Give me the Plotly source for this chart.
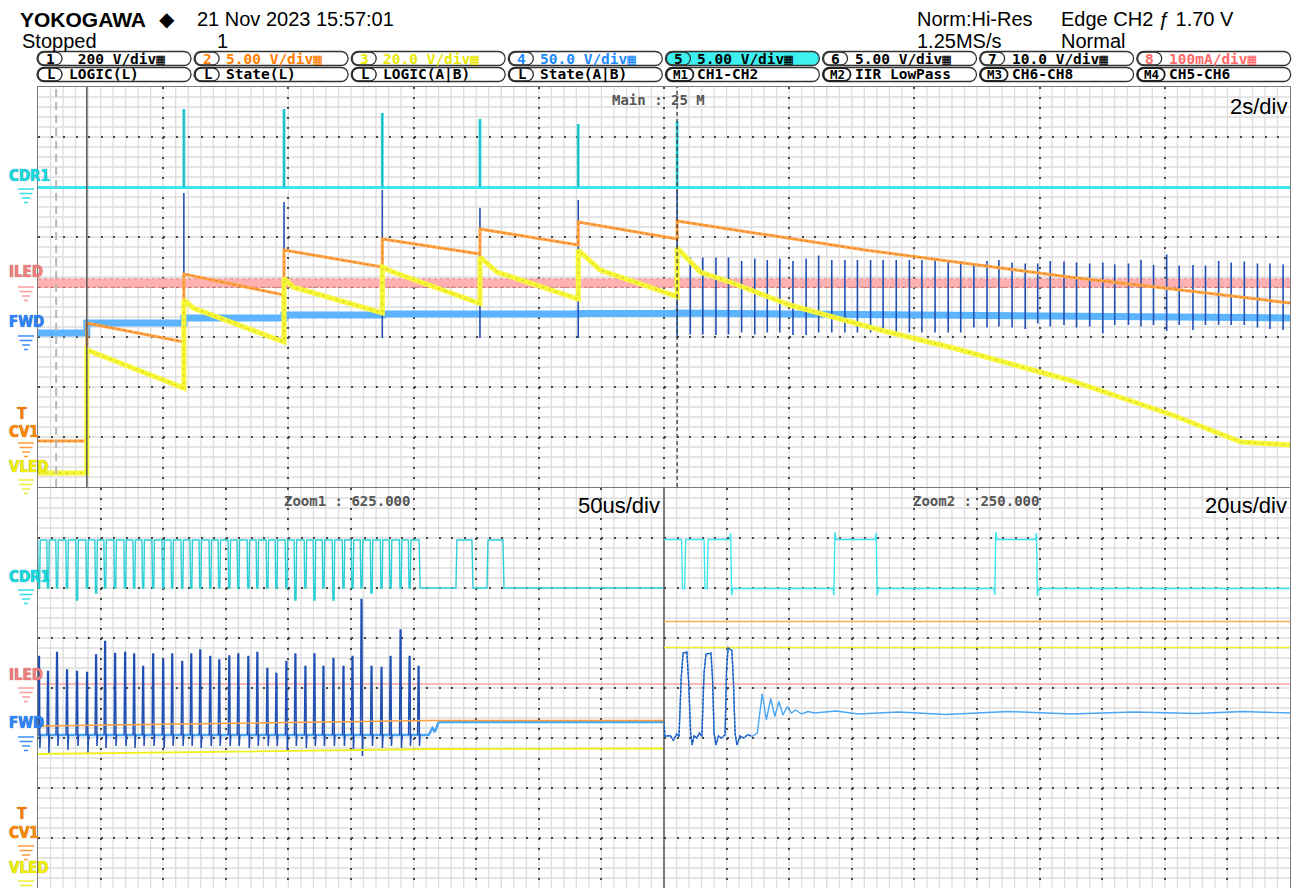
import plotly.graph_objects as go

W, H = 1297, 888

# ===================== DATA =====================
# Main window (2 s/div): time in s from the left edge of the screen,
# level in divisions from the screen centre.
cursor_t = 0.29
record_start_t = 0.78
trigger_t = 10.21
burst_t = [2.33, 3.93, 5.50, 7.06, 8.63, 10.21]

cdr1_main_level = 1.99
cdr1_main_spike_top = [3.56, 3.56, 3.48, 3.36, 3.26, 3.32]

iled_main_t = [0.0, 20.0]
iled_main_v = [0.08, 0.08]

fwd_main_t = [0.0, 0.78, 0.78, 2.33, 2.33, 3.93, 3.93, 5.50, 5.50, 7.06, 7.06, 8.63, 8.63, 10.21, 10.21, 20.0]
fwd_main_v = [-0.92, -0.92, -0.72, -0.72, -0.62, -0.62, -0.56, -0.56, -0.54, -0.54, -0.54, -0.54, -0.53, -0.53, -0.52, -0.62]
fwd_burst_top = [1.88, 1.70, 1.94, 1.58, 1.74, 1.94]
fwd_burst_bot = [-0.86, -1.06, -1.02, -1.02, -1.02, -1.02]

fwd_pulse_t = [10.42, 10.62, 10.83, 11.03, 11.24, 11.45, 11.65, 11.85, 12.06, 12.27,
               12.47, 12.68, 12.89, 13.09, 13.30, 13.50, 13.71, 13.92, 14.12, 14.33,
               14.54, 14.74, 14.95, 15.16, 15.35, 15.56, 15.77, 15.97, 16.17, 16.39,
               16.59, 16.80, 17.01, 17.20, 17.42, 17.62, 17.82, 18.03, 18.23, 18.45,
               18.65, 18.86, 19.06, 19.27, 19.48, 19.68, 19.89]
fwd_pulse_top = [0.59, 0.59, 0.59, 0.59, 0.52, 0.57, 0.54, 0.57, 0.52, 0.57,
                 0.63, 0.54, 0.54, 0.54, 0.54, 0.54, 0.54, 0.54, 0.54, 0.54,
                 0.54, 0.52, 0.47, 0.52, 0.54, 0.49, 0.47, 0.47, 0.52, 0.51,
                 0.49, 0.47, 0.49, 0.45, 0.47, 0.54, 0.44, 0.65, 0.43, 0.44,
                 0.43, 0.52, 0.49, 0.51, 0.47, 0.47, 0.45]
fwd_pulse_bot = [-0.95, -0.95, -0.96, -0.95, -0.91, -0.95, -0.91, -0.91, -0.96, -0.96,
                 -0.91, -0.91, -0.91, -0.91, -0.91, -0.91, -0.91, -0.91, -0.91, -0.91,
                 -0.91, -0.91, -0.81, -0.81, -0.79, -0.81, -0.84, -0.73, -0.79, -0.76,
                 -0.81, -0.79, -0.93, -0.76, -0.76, -0.79, -0.76, -0.88, -0.76, -0.86,
                 -0.76, -0.76, -0.76, -0.76, -0.81, -0.84, -0.86]

cv1_main_t = [0.0, 0.78, 0.78, 2.33, 2.33, 3.93, 3.93, 5.50, 5.50, 7.06, 7.06, 8.63, 8.63,
              10.21, 10.21, 13.21, 16.47, 18.12, 20.0]
cv1_main_v = [-3.08, -3.08, -0.72, -1.10, 0.26, -0.16, 0.74, 0.40, 0.96, 0.66, 1.16, 0.84, 1.30,
              0.96, 1.32, 0.74, 0.20, -0.04, -0.32]

vled_main_t = [0.0, 0.78, 0.78, 2.33, 2.33, 2.48, 3.93, 3.93, 4.07, 5.50,
               5.50, 5.67, 7.06, 7.06, 7.33, 8.63, 8.63, 8.98, 10.21, 10.21,
               10.58, 11.05, 12.01, 12.70, 13.45, 14.62, 16.47, 18.12, 19.22, 20.0]
vled_main_v = [-3.72, -3.72, -1.26, -2.02, -0.26, -0.42, -1.10, 0.18, 0.00, -0.52,
               0.40, 0.30, -0.33, 0.60, 0.30, -0.24, 0.74, 0.34, -0.19, 0.78,
               0.30, 0.10, -0.36, -0.60, -0.86, -1.22, -1.86, -2.56, -3.10, -3.16]

# Zoom1 (50 us/div): time in us from the left edge of the zoom window
z1_pulse_t = [0.8, 8.0, 15.2, 23.2, 31.2, 39.2, 46.4, 53.6, 61.6, 69.6,
              76.8, 84.0, 92.0, 100.0, 107.2, 115.2, 122.4, 129.6, 137.6, 144.8,
              152.8, 160.0, 168.0, 175.2, 183.2, 190.4, 198.4, 205.6, 213.6, 220.8,
              228.0, 236.0, 244.0, 251.2, 258.4, 266.4, 274.4, 281.6, 289.6, 296.8, 304.0]
z1_fwd_top = [0.63, 0.33, 0.71, 0.36, 0.33, 0.31, 0.66, 0.93, 0.69, 0.71,
              0.68, 0.43, 0.68, 0.56, 0.68, 0.53, 0.68, 0.76, 0.63, 0.56,
              0.64, 0.68, 0.63, 0.71, 0.39, 0.29, 0.53, 0.68, 0.43, 0.68,
              0.43, 0.59, 0.43, 0.63, 1.77, 0.43, 0.41, 0.63, 1.16, 0.63, 0.43]
z1_fwd_bot = [-1.20, -1.30, -1.16, -1.24, -1.16, -1.30, -1.16, -1.20, -1.16, -1.16,
              -1.20, -1.16, -1.16, -1.20, -1.16, -1.16, -1.16, -1.20, -1.16, -1.16,
              -1.16, -1.16, -1.20, -1.16, -1.16, -1.16, -1.26, -1.16, -1.20, -1.16,
              -1.16, -1.16, -1.16, -1.26, -1.36, -1.16, -1.20, -1.16, -1.20, -1.16, -1.16]
z1_fwd_base_t = [0.0, 312.0, 315.0, 317.0, 320.0, 500.0]
z1_fwd_base_v = [-0.94, -0.94, -0.80, -0.88, -0.68, -0.68]
z1_cdr1_hi = 2.96
z1_cdr1_lo = 2.00
z1_cdr1_dip_v = [2.0, 2.0, 2.0, 2.0, 1.76, 2.0, 1.9, 2.0, 2.0, 2.0,
                 2.0, 2.0, 2.0, 2.0, 2.0, 2.0, 2.0, 2.0, 2.0, 2.0,
                 2.0, 2.0, 2.0, 2.0, 2.0, 2.0, 2.0, 1.76, 2.0, 1.76,
                 2.0, 1.76, 2.0, 2.0, 2.0, 1.9, 2.0, 2.0, 2.0, 2.0]
z1_cdr1_edge_t = [304.8, 334.2, 347.0, 359.0, 371.8]   # fall, rise, fall, rise, fall
z1_iled_t = [0.0, 500.0]
z1_iled_v = [0.08, 0.08]
z1_cv1_t = [0.0, 313.6, 500.0]
z1_cv1_v = [-0.76, -0.65, -0.65]
z1_vled_t = [0.0, 320.0, 500.0]
z1_vled_v = [-1.32, -1.22, -1.21]

# Zoom2 (20 us/div): time in us from the left edge of the zoom window
z2_cdr1_t = [0, 5.6, 5.9, 6.6, 6.9, 12.8, 13.1, 13.8, 14.1, 21.0,
             21.3, 21.6, 22.0, 54.0, 54.3, 54.6, 55.0, 67.5, 67.8, 68.1,
             68.5, 105.4, 105.7, 106.0, 106.4, 118.7, 119.0, 119.3, 119.7, 200]
z2_cdr1_v = [2.97, 2.97, 1.99, 1.99, 2.97, 2.97, 1.99, 1.99, 2.97, 2.97,
             3.10, 1.85, 1.99, 1.99, 1.85, 3.12, 2.97, 2.97, 3.10, 1.85,
             1.99, 1.99, 1.86, 3.12, 2.97, 2.97, 3.10, 1.84, 1.99, 1.99]
z2_fwd_t = [0, 0.3, 2.0, 3.0, 4.0, 4.8, 5.5, 6.1, 7.3, 7.9,
            8.5, 9.0, 9.6, 10.5, 11.3, 12.1, 12.8, 13.4, 15.0, 15.5,
            16.0, 16.6, 17.4, 18.3, 19.5, 20.0, 20.5, 21.7, 22.2, 22.7,
            23.3, 24.3, 25.5, 26.8, 28.1, 29.8, 31.4, 32.7, 34.1, 35.4,
            36.7, 38.0, 39.4, 40.7, 42.0, 44.0, 46.0, 48.0, 55, 62,
            75, 90, 110, 130, 150, 170, 185, 200]
z2_fwd_v = [-0.68, -0.97, -0.95, -1.05, -0.92, -0.97, 0.2, 0.7, 0.72, 0.1,
            -0.9, -1.14, -0.95, -1.0, -0.9, -0.97, 0.3, 0.68, 0.70, 0.2,
            -0.9, -1.14, -0.96, -1.0, -0.94, 0.4, 0.8, 0.75, 0.1, -0.9,
            -1.14, -0.96, -1.0, -0.93, -0.97, -0.9, -0.11, -0.64, -0.21, -0.57,
            -0.27, -0.54, -0.37, -0.5, -0.44, -0.52, -0.47, -0.5, -0.46, -0.52,
            -0.48, -0.53, -0.47, -0.52, -0.48, -0.51, -0.47, -0.5]
z2_fwd_pulse_n = 35
z2_iled_t = [0.0, 200.0]
z2_iled_v = [0.08, 0.08]
z2_cv1_t = [0.0, 200.0]
z2_cv1_v = [1.33, 1.33]
z2_vled_t = [0.0, 200.0]
z2_vled_v = [0.81, 0.81]

# Header text
ch_scale = [" 200 V/div", "5.00 V/div", "20.0 V/div", "50.0 V/div",
            "5.00 V/div", "5.00 V/div", "10.0 V/div", "100mA/div"]
ch_num = ["1", "2", "3", "4", "5", "6", "7", "8"]
ch_func_badge = ["L", "L", "L", "L", "M1", "M2", "M3", "M4"]
ch_func = ["LOGIC(L)", "State(L)", "LOGIC(A|B)", "State(A|B)",
           "CH1-CH2", "IIR LowPass", "CH6-CH8", "CH5-CH6"]

# ===================== STYLE =====================
C_CYAN, C_TEAL = "#3ee6ee", "#1fb3b8"
C_PINK, C_PINK_D = "#ffb1b1", "#c86464"
C_LBLUE, C_DBLUE = "#5cb4ff", "#2050b4"
C_ORANGE, C_ORANGE_D = "#ffa444", "#d06a10"
C_YELLOW, C_YELLOW_D = "#f7f73a", "#b9ad00"
SANS = "Liberation Sans, Arial, sans-serif"
MONO = "DejaVu Sans Mono, Liberation Mono, monospace"
COND = "DejaVu Sans Condensed, Liberation Sans Narrow, Liberation Sans, sans-serif"


def X(px):
    return px / W


def Y(py):
    return 1 - py / H


fig = go.Figure()


def line(x, y, color, width, ax, dash=None, opacity=1.0):
    xa = {1: "x", 2: "x2", 3: "x3"}[ax]
    fig.add_trace(go.Scatter(
        x=x, y=y, mode="lines", opacity=opacity, hoverinfo="skip", showlegend=False,
        line=dict(color=color, width=width, dash=dash, simplify=False),
        xaxis=xa, yaxis=xa.replace("x", "y")))


def spikes(ts, bots, tops):
    xs, ys = [], []
    for t, b, tp in zip(ts, bots, tops):
        xs += [t, t, None]
        ys += [b, tp, None]
    return xs, ys


# ---------------- main window traces ----------------
line(iled_main_t, iled_main_v, C_PINK, 9, 1)
line(iled_main_t, [v + 0.085 for v in iled_main_v], C_PINK_D, 1, 1, dash="3px,3px", opacity=0.6)
line(iled_main_t, [v - 0.085 for v in iled_main_v], C_PINK_D, 1, 1, dash="4px,2px", opacity=0.8)

cx, cy = [0.0], [cdr1_main_level]
for t, tp in zip(burst_t, cdr1_main_spike_top):
    cx += [t, t, t]
    cy += [cdr1_main_level, tp, cdr1_main_level]
cx.append(20.0)
cy.append(cdr1_main_level)
line(cx, cy, C_CYAN, 3, 1)
sx, sy = spikes(burst_t, [cdr1_main_level] * len(burst_t), cdr1_main_spike_top)
line(sx, sy, C_TEAL, 1.5, 1)

line(fwd_main_t, fwd_main_v, C_LBLUE, 7, 1)
sx, sy = spikes(burst_t, fwd_burst_bot, fwd_burst_top)
line(sx, sy, C_DBLUE, 1.6, 1)
sx, sy = spikes(fwd_pulse_t, fwd_pulse_bot, fwd_pulse_top)
line(sx, sy, C_DBLUE, 1.6, 1)

line(cv1_main_t, cv1_main_v, C_ORANGE, 3, 1)
line(cv1_main_t, cv1_main_v, C_ORANGE_D, 1, 1, dash="2px,4px", opacity=0.8)
line(vled_main_t, vled_main_v, C_YELLOW, 5, 1)
line(vled_main_t, vled_main_v, C_YELLOW_D, 1, 1, dash="2px,5px", opacity=0.7)

# ---------------- zoom1 traces ----------------
line(z1_iled_t, z1_iled_v, "#ff9f9f", 1.4, 2)
zx, zy = [0.0], [z1_cdr1_hi]
for t, lo in zip(z1_pulse_t[:-1], z1_cdr1_dip_v):
    zx += [t - 1.0, t - 0.5, t + 0.5, t + 1.0]
    zy += [z1_cdr1_hi, lo, lo, z1_cdr1_hi]
lev = [z1_cdr1_lo, z1_cdr1_hi, z1_cdr1_lo, z1_cdr1_hi, z1_cdr1_lo]
cur = z1_cdr1_hi
for t, nv in zip(z1_cdr1_edge_t, lev):
    zx += [t - 0.4, t + 0.4]
    zy += [cur, nv]
    cur = nv
zx.append(500.0)
zy.append(cur)
line(zx, zy, "#2ccfd6", 1.4, 2)

line(z1_fwd_base_t, z1_fwd_base_v, "#4aa6f2", 2.5, 2)
fx, fy = [], []
for t, tp, bt in zip(z1_pulse_t, z1_fwd_top, z1_fwd_bot):
    fx += [t - 0.8, t - 0.3, t + 0.3, t + 0.7, t + 1.2, None]
    fy += [z1_fwd_base_v[0], tp, tp, bt, z1_fwd_base_v[0], None]
line(fx, fy, C_DBLUE, 1.5, 2)
line(z1_cv1_t, z1_cv1_v, "#ffa040", 1.5, 2)
line(z1_vled_t, z1_vled_v, "#f0f020", 1.8, 2)

# ---------------- zoom2 traces ----------------
line(z2_cdr1_t, z2_cdr1_v, C_CYAN, 1.4, 3)
line(z2_cv1_t, z2_cv1_v, "#ffaa55", 1.4, 3)
line(z2_vled_t, z2_vled_v, "#f0f030", 1.6, 3)
line(z2_iled_t, z2_iled_v, "#ff9f9f", 1.4, 3)
line(z2_fwd_t, z2_fwd_v, "#4aa6f2", 1.4, 3)
line(z2_fwd_t[:z2_fwd_pulse_n], z2_fwd_v[:z2_fwd_pulse_n], C_DBLUE, 1.3, 3, dash="3px,1px")

# ---------------- axes & grid ----------------
panels = [  # (x axis, y axis, x domain px, y domain px, x range, major dx, minor dx)
    ("x", "y", (38, 1290), (487, 87), (0, 20), 2, 0.2),
    ("x2", "y2", (38, 664), (888, 488), (0, 500), 50, 10),
    ("x3", "y3", (664, 1290), (888, 488), (0, 200), 20, 4),
]
Y_RANGE, Y_MAJOR, Y_MINOR = (-4, 4), 1, 0.2


def axis(domain, rng, dtick, tick0, anchor, dash):
    return dict(domain=domain, range=list(rng), tickmode="linear", dtick=dtick, tick0=tick0,
                showgrid=True, gridcolor="#484848", griddash=dash, gridwidth=2,
                showticklabels=False, ticks="", zeroline=False,
                showline=True, mirror=True, linecolor="#7a7a7a", linewidth=1.2,
                fixedrange=True, anchor=anchor, layer="below traces")


lay = {}
for xa, ya, xd, yd, xr, mdx, mnx in panels:
    xk = "xaxis" + xa[1:]
    yk = "yaxis" + ya[1:]
    # vertical major lines: dot at every fine horizontal line (10 px); horizontal: every 12.52 px
    lay[xk] = axis([X(xd[0]), X(xd[1])], xr, mdx, xr[0], ya, "2px,8px")
    lay[yk] = axis([Y(yd[0]), Y(yd[1])], Y_RANGE, Y_MAJOR, 0, xa, "2px,10.52px")
    n = int(round((xr[1] - xr[0]) / mnx))
    for i in range(1, n):
        xv = xr[0] + i * mnx
        fig.add_shape(type="line", xref=xa, yref=ya + " domain", x0=xv, x1=xv, y0=0, y1=1,
                      layer="below", line=dict(color="#dddddd", width=1.3))
    n = int(round((Y_RANGE[1] - Y_RANGE[0]) / Y_MINOR))
    for i in range(1, n):
        yv = Y_RANGE[0] + i * Y_MINOR
        fig.add_shape(type="line", xref=xa + " domain", yref=ya, x0=0, x1=1, y0=yv, y1=yv,
                      layer="below", line=dict(color="#dddddd", width=1.3))

fig.update_layout(width=W, height=H, margin=dict(l=0, r=0, t=0, b=0),
                  paper_bgcolor="white", plot_bgcolor="rgba(0,0,0,0)", showlegend=False, **lay)

# cursor / record start / trigger position markers in the main window
fig.add_shape(type="line", xref="x", yref="y domain", x0=cursor_t, x1=cursor_t, y0=0, y1=1,
              line=dict(color="#b8b8b8", width=2, dash="8px,5px"))
fig.add_shape(type="line", xref="x", yref="y domain", x0=record_start_t, x1=record_start_t, y0=0, y1=1,
              line=dict(color="#555555", width=1.5))
fig.add_shape(type="line", xref="x", yref="y domain", x0=trigger_t, x1=trigger_t, y0=0, y1=1,
              line=dict(color="#404040", width=1.3, dash="4px,3px"))


# ---------------- text helpers ----------------
def txt(s, x, y, size, color="#000000", anchor="left", family=SANS, weight="normal", shadow=None):
    f = dict(size=size, color=color, family=family, weight=weight)
    if shadow:
        f["shadow"] = shadow
    fig.add_annotation(text=s, x=X(x), y=Y(y), xref="paper", yref="paper", borderpad=0,
                       xanchor=anchor, yanchor="middle", showarrow=False, font=f)


def capsule(x0, x1, y0, y1, color="#333333", fill="rgba(0,0,0,0)", width=1.3):
    r = (y1 - y0) / 2.0
    k = 0.5523 * r
    ym = (y0 + y1) / 2.0
    P = lambda x, y: f"{X(x):.5f},{Y(y):.5f}"
    path = (f"M {P(x0 + r, y0)} L {P(x1 - r, y0)} "
            f"C {P(x1 - r + k, y0)} {P(x1, ym - k)} {P(x1, ym)} "
            f"C {P(x1, ym + k)} {P(x1 - r + k, y1)} {P(x1 - r, y1)} "
            f"L {P(x0 + r, y1)} "
            f"C {P(x0 + r - k, y1)} {P(x0, ym + k)} {P(x0, ym)} "
            f"C {P(x0, ym - k)} {P(x0 + r - k, y0)} {P(x0 + r, y0)} Z")
    fig.add_shape(type="path", path=path, xref="paper", yref="paper",
                  line=dict(color=color, width=width), fillcolor=fill)


def ground(xc, ytop, color):
    for i, hw in enumerate([8, 6.5, 4, 2]):
        yy = ytop + i * 4.5
        fig.add_shape(type="line", xref="paper", yref="paper",
                      x0=X(xc - hw), x1=X(xc + hw), y0=Y(yy), y1=Y(yy),
                      line=dict(color=color, width=1.5))


# ---------------- header ----------------
txt("YOKOGAWA", 19, 20, 21, weight="bold")
txt("◆", 158, 19, 20)
txt("21 Nov 2023 15:57:01", 196, 19, 20)
txt("Stopped", 21, 41, 20)
txt("1", 216, 41, 20)
txt("Norm:Hi-Res", 916, 19, 20)
txt("1.25MS/s", 916, 41, 20)
txt("Edge CH2 ƒ 1.70 V", 1060, 19, 20)
txt("Normal", 1060, 41, 20)

row1_col = ["#000000", "#ff7f00", "#e8e800", "#1e8cff", "#000000", "#000000", "#000000", "#ff6a6a"]
for k in range(8):
    L = 37 + 157.1 * k
    R = L + 154
    capsule(L, R, 51.5, 65.5, fill="#3ff0f0" if k == 4 else "rgba(0,0,0,0)")
    capsule(L + 1, L + 25, 52, 65)
    txt(ch_num[k], L + 13, 58.5, 14.5, color=row1_col[k], anchor="center", family=MONO, weight="bold")
    txt(ch_scale[k] + "▦", L + 31, 58.5, 14.5, color=row1_col[k], family=MONO, weight="bold")
    capsule(L, R, 67.5, 81.5)
    bw = 25 if ch_func_badge[k] == "L" else 28
    capsule(L + 1, L + bw, 68, 81, color="#202020", width=1.8 if bw > 25 else 1.3)
    txt(ch_func_badge[k], L + 1 + bw / 2, 74.5, 12.5 if bw > 25 else 14, anchor="center",
        family=MONO, weight="bold")
    txt(ch_func[k], L + 31, 74.5, 14.5, family=MONO, weight="bold")

# ---------------- window captions ----------------
txt("Main : 25 M", 658, 100, 14, color="#555555", anchor="center", family=MONO, weight="bold")
txt("2s/div", 1288, 106, 22, anchor="right")
txt("Zoom1 : 625.000", 347, 501, 14, color="#555555", anchor="center", family=MONO, weight="bold")
txt("50us/div", 661, 505, 22, anchor="right")
txt("Zoom2 : 250.000", 976, 501, 14, color="#555555", anchor="center", family=MONO, weight="bold")
txt("20us/div", 1288, 505, 22, anchor="right")

# ---------------- channel labels & ground marks ----------------
labels = [("CDR1", "#14dbe3", "#0a6a70"), ("ILED", "#f08080", "#902828"),
          ("FWD", "#2a86ff", "#0a2a80"), ("CV1", "#ff8a00", "#803000"),
          ("VLED", "#f2f200", "#7a7a00")]
main_lab_y = [176, 272, 322, 432, 467]
main_gnd_y = [189, 287, 336, 443, 480]
zoom_lab_y = [577, 675, 723, 833, 868]
zoom_gnd_y = [590, 688, 737, 846, 881]
gnd_col = ["#30e0e8", "#ff9c9c", "#3c8cff", "#ff9a3a", "#eeee30"]
for (s, c, sh), ym, gm, yz, gz, gc in zip(labels, main_lab_y, main_gnd_y, zoom_lab_y, zoom_gnd_y, gnd_col):
    for yl, yg in ((ym, gm), (yz, gz)):
        txt(s, 8, yl, 15, color=c, family=COND, weight="bold", shadow=f"0px 0px 1px {sh}")
        ground(26, yg, gc)
for yt in (413, 813):
    txt("T", 16, yt, 16, color="#ff7a00", family=SANS, weight="bold", shadow="0px 0px 1px #803000")

fig.write_html("out.html", config={"displayModeBar": False, "staticPlot": True},
               post_script="document.body.style.margin='0';document.body.style.overflow='hidden';")
